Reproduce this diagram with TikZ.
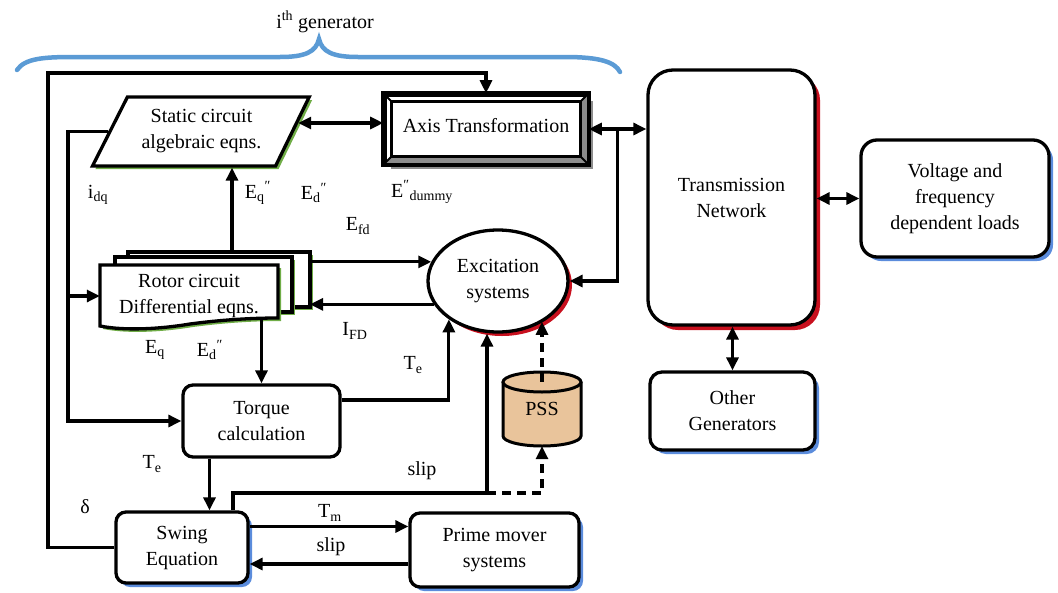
\documentclass[tikz,border=0pt]{standalone}
\usepackage{fontspec}
\setmainfont{Liberation Serif}
\usetikzlibrary{arrows.meta,shapes.geometric,shadows,calc}
\definecolor{gshadow}{RGB}{112,173,71}
\definecolor{rshadow}{RGB}{200,16,30}
\definecolor{bshadow}{RGB}{91,140,220}
\definecolor{braceblue}{RGB}{91,155,213}
\definecolor{psstan}{RGB}{233,196,155}
\definecolor{bevelgray}{RGB}{140,140,140}
\begin{document}
\begin{tikzpicture}[x=1pt,y=-1pt,
  font=\fontsize{20}{26}\selectfont,
  box/.style={draw, line width=3.3pt, fill=white, align=center, inner sep=0pt},
  bsh/.style={general shadow={fill=bshadow, shadow xshift=4pt, shadow yshift=-4pt}},
  rsh/.style={general shadow={fill=rshadow, shadow xshift=5pt, shadow yshift=-5pt}},
  rsh2/.style={general shadow={fill=rshadow, shadow xshift=4pt, shadow yshift=-4pt}},
  gsh/.style={general shadow={fill=gshadow, shadow xshift=3pt, shadow yshift=-3pt}},
  conn/.style={line width=3.1pt},
  arr/.style={conn, -{Triangle[length=13pt,width=12pt]}},
  dbl/.style={conn, {Triangle[length=13pt,width=12pt]}-{Triangle[length=13pt,width=12pt]}},
  dsh/.style={dash pattern=on 9pt off 6pt},
  lbl/.style={inner sep=0pt},
  sheet/.style={draw, line width=3.3pt, fill=white}
]
\useasboundingbox (0,0) rectangle (1058,592);

% brace and title
\draw[braceblue, line width=4.5pt, line cap=round]
  (17,70) .. controls (25,58) and (45,57) .. (75,57) -- (280,57)
  .. controls (305,57) and (316,52) .. (319,39)
  .. controls (322,52) and (333,57) .. (358,57) -- (565,57)
  .. controls (600,57) and (615,62) .. (620,72);
\node[lbl] (gen) at (325,22) {i\textsuperscript{th} generator};

% right side
\node[box, rsh, rounded corners=25pt, minimum width=167pt, minimum height=255pt] (tn) at (731.5,197.5) {Transmission\\Network};
\node[box, bsh, rounded corners=16pt, minimum width=188pt, minimum height=117pt] (volt) at (955,198.5) {Voltage and\\frequency\\dependent loads};
\node[box, bsh, rounded corners=12pt, minimum width=165pt, minimum height=78pt] (other) at (732.5,411) {Other\\Generators};

% generator blocks
\node[box, rounded corners=10pt, minimum width=157pt, minimum height=72pt] (torque) at (261.5,421) {Torque\\calculation};
\node[box, bsh, rounded corners=10pt, minimum width=132pt, minimum height=71pt] (sw) at (182,547.5) {Swing\\Equation};
\node[box, bsh, rounded corners=10pt, minimum width=169pt, minimum height=74pt] (prime) at (494.5,550) {Prime mover\\systems};
\node[box, rsh2, ellipse, minimum width=140pt, minimum height=102pt] (exc) at (498,281) {Excitation\\systems};
\node[box, gsh, trapezium, trapezium left angle=57, trapezium right angle=122, trapezium stretches=true, minimum width=217pt, minimum height=69pt] (static) at (201.5,131.5) {Static circuit\\algebraic eqns.};

% axis transformation (bevelled frame)
\node[box, line width=3.6pt, minimum width=202pt, minimum height=68pt, general shadow={fill=black!45, shadow xshift=6pt, shadow yshift=-6pt}] (axis) at (486,129) {\raisebox{7pt}{Axis Transformation}};
\fill[bevelgray] (axis.south west) -- ++(8pt,8pt) -- ([xshift=-8pt,yshift=8pt]axis.south east) -- (axis.south east) -- cycle;
\fill[bevelgray] (axis.south east) -- ++(-8pt,8pt) -- ([xshift=-8pt,yshift=-8pt]axis.north east) -- (axis.north east) -- cycle;
\draw[line width=3.6pt] (axis.north west) rectangle (axis.south east);
\draw[line width=3pt] ([xshift=8pt,yshift=-8pt]axis.north west) rectangle ([xshift=-8pt,yshift=8pt]axis.south east);
\draw[line width=1.8pt] (axis.north west) -- ++(8pt,-8pt);
\draw[line width=1.8pt] (axis.north east) -- ++(-8pt,-8pt);
\draw[line width=1.8pt] (axis.south west) -- ++(8pt,8pt);
\draw[line width=1.8pt] (axis.south east) -- ++(-8pt,8pt);

% rotor circuit stack
\fill[gshadow] (131,255) rectangle (313,310);
\draw[sheet] (128,252) rectangle (310,307);
\fill[gshadow] (118,260) rectangle (295,315);
\draw[sheet] (115,257) rectangle (292,312);
\fill[gshadow, shift={(3,3)}] (100,265) -- (278,265) -- (278,318) .. controls (250,318) and (220,320) .. (190,324) .. controls (160,329) and (125,331) .. (100,326) -- cycle;
\draw[sheet] (100,265) -- (278,265) -- (278,318) .. controls (250,318) and (220,320) .. (190,324) .. controls (160,329) and (125,331) .. (100,326) -- cycle;
\node[align=center, inner sep=0pt, minimum width=178pt, minimum height=56pt] (rotor) at (189,296) {Rotor circuit\\Differential eqns.};

% PSS cylinder
\filldraw[fill=psstan, line width=3pt] (503,382) -- (503,436) arc[start angle=180, end angle=360, x radius=39pt, y radius=10pt] -- (581,382);
\filldraw[fill=psstan, line width=3pt] (542,382) ellipse[x radius=39pt, y radius=10pt];
\node[inner sep=0pt, minimum width=78pt, minimum height=74pt] (pss) at (542,409) {PSS};

% helper coordinates
\coordinate (lftTop) at (48,73);
\coordinate (L2) at (68,0);
\coordinate (rbtop) at (232,252);
\coordinate (rbE) at (310,277);
\coordinate (rbS) at (278,318);
\coordinate (sj) at (487,493);
\coordinate (j1) at ($(axis.east)!0.5!(axis.east -| tn.west)$);
\coordinate (aw) at ([yshift=6pt]axis.west);
\coordinate (se) at ([xshift=4pt]static.east);
\coordinate (tqo) at ([yshift=21pt]torque.east);
\coordinate (tqs) at ([xshift=-52pt]torque.south);
\coordinate (swn) at ([xshift=51pt]sw.north);
\coordinate (pst) at ([yshift=-10pt]pss.north);
\coordinate (tmS) at ([yshift=21pt]sw.east);
\coordinate (slS) at ([yshift=-14pt]prime.west);

% connectors
\draw[arr] (sw.west) -| (lftTop) -| (axis.north);
\draw[dbl] (aw -| se) -- (aw);
\draw[dbl] (axis.east) -- (axis.east -| tn.west);
\draw[arr] (j1) |- (exc.east);
\draw[dbl] (tn.east |- volt.west) -- (volt.west);
\draw[dbl] (tn.south -| other.north) -- (other.north);
\draw[arr] (rbtop) -- (rbtop |- static.south);
\draw[arr] (exc.164 -| rbE) -- (exc.164);
\draw[arr] (exc.200) -- (exc.200 -| rbE);
\draw[arr] (static.west) -| (L2 |- torque.west) -- (torque.west);
\draw[arr] (L2 |- rotor.west) -- (rotor.west);
\draw[arr] (torque.north |- rbS) -- (torque.north);
\draw[arr] (tqo) -| (exc.218);
\draw[arr] (tqs) -- (tqs |- sw.north);
\draw[arr] (swn) |- (sj) -- (sj |- exc.south);
\draw[conn, dsh, -{Triangle[length=13pt,width=12pt]}] (sj) -| (pss.south);
\draw[conn, dsh, -{Triangle[length=13pt,width=12pt]}] (pst) -- (pst |- exc.318);
\draw[arr] (tmS) -- (tmS -| prime.west);
\draw[arr] (slS) -- (slS -| sw.east);

% labels
\node[lbl] (lidq) at (98,195) {i\textsubscript{dq}};
\node[lbl] (leq1) at (258,193) {E\textsubscript{q}\textsuperscript{″}};
\node[lbl] (led1) at (314,193) {E\textsubscript{d}\textsuperscript{″}};
\node[lbl] (ledum) at (422,192) {E\textsuperscript{″}\textsubscript{dummy}};
\node[lbl] (lefd) at (358,226) {E\textsubscript{fd}};
\node[lbl] (lifd) at (355,331) {I\textsubscript{FD}};
\node[lbl] (leq2) at (155,350) {E\textsubscript{q}};
\node[lbl] (led2) at (210,350) {E\textsubscript{d}\textsuperscript{″}};
\node[lbl] (lte1) at (413,365) {T\textsubscript{e}};
\node[lbl] (lte2) at (152,464) {T\textsubscript{e}};
\node[lbl] (lslip1) at (422,471) {slip};
\node[lbl] (ldelta) at (85,507) {δ};
\node[lbl] (ltm) at (330,513) {T\textsubscript{m}};
\node[lbl] (lslip2) at (331,547) {slip};
\end{tikzpicture}
\end{document}
